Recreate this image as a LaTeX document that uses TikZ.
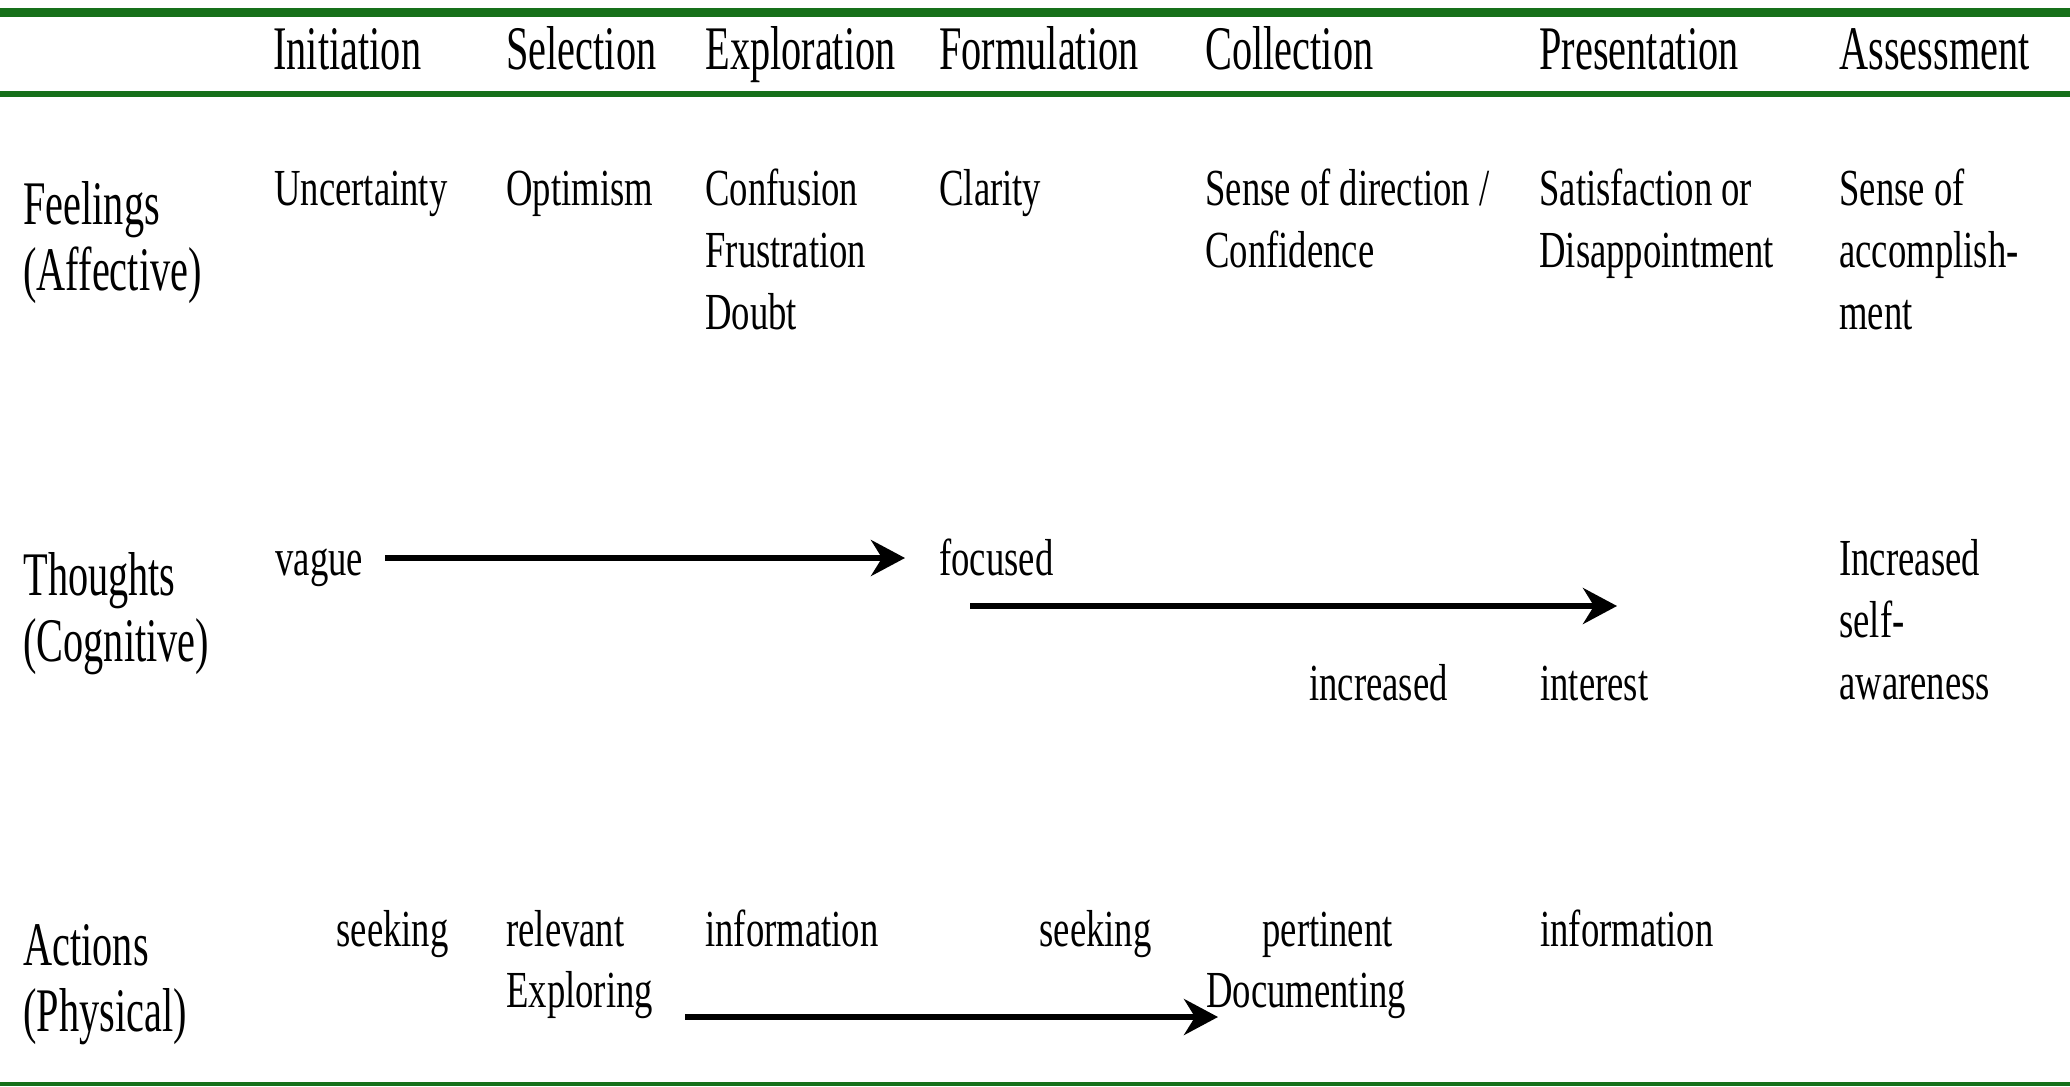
\documentclass[tikz,border=0pt]{standalone}
\usepackage{fontspec}
\setmainfont{Liberation Serif}[FakeStretch=0.705]
\newfontfamily\hdfont{Liberation Serif}[FakeStretch=0.65]
\usetikzlibrary{arrows.meta}
\definecolor{rulegreen}{RGB}{22,112,26}
\newcommand{\celllines}[1]{\begin{tabular}[t]{@{}l@{}}#1\end{tabular}}
\tikzset{
  hd/.style={anchor=base west, inner sep=0pt, font=\hdfont\fontsize{31}{33}\selectfont},
  cell/.style={anchor=base west, inner sep=0pt, font=\fontsize{26}{31}\selectfont},
  cellr/.style={cell, anchor=base east},
  flow/.style={line width=2.7pt, -{Stealth[length=17pt,width=18pt,inset=5.5pt]}},
  rulebar/.style={fill=rulegreen, draw=none},
}
\begin{document}
\begin{tikzpicture}[x=0.5pt,y=-0.5pt]
\useasboundingbox (0,0) rectangle (2070,1086);
% green rules
\fill[rulebar] (0,8) rectangle (2070,17);
\fill[rulebar] (0,91) rectangle (2070,97);
\fill[rulebar] (0,1082) rectangle (2070,1086);
% header
\node[hd] (hInit) at (273,70) {Initiation};
\node[hd] (hSel)  at (506,70) {Selection};
\node[hd] (hExp)  at (705,70) {Exploration};
\node[hd] (hForm) at (939,70) {Formulation};
\node[hd] (hColl) at (1205,70) {Collection};
\node[hd] (hPres) at (1539,70) {Presentation};
\node[hd] (hAss)  at (1839,70) {Assessment};
% row labels
\node[hd] (lFeel) at (23,224) {\celllines{Feelings\\(Affective)}};
\node[hd] (lThou) at (23,595) {\celllines{Thoughts\\(Cognitive)}};
\node[hd] (lAct)  at (23,965) {\celllines{Actions\\(Physical)}};
% feelings
\node[cell] (fInit) at (274,205) {Uncertainty};
\node[cell] (fSel)  at (506,205) {Optimism};
\node[cell] (fExp)  at (705,205) {\celllines{Confusion\\Frustration\\Doubt}};
\node[cell] (fForm) at (939,205) {Clarity};
\node[cell] (fColl) at (1205,205) {\celllines{Sense of direction /\\Confidence}};
\node[cell] (fPres) at (1539,205) {\celllines{Satisfaction or\\Disappointment}};
\node[cell] (fAss)  at (1839,205) {\celllines{Sense of\\accomplish-\\ment}};
% thoughts
\node[cell] (tVague) at (275,575) {vague};
\node[cell] (tFoc)   at (939,575) {focused};
\node[cell] (tAss)   at (1839,575) {\celllines{Increased\\self-\\awareness}};
\node[cell] (tIncr)  at (1309,700) {increased};
\node[cell] (tInt)   at (1540,700) {interest};
\coordinate (t1s) at (385,558);
\coordinate (t1e) at (905,558);
\coordinate (t2s) at (970,606);
\coordinate (t2e) at (1617,606);
\draw[flow] (t1s) -- (t1e);
\draw[flow] (t2s) -- (t2e);
% actions
\node[cellr] (aSeek1) at (449,946) {seeking};
\node[cell]  (aRel)   at (506,946) {relevant};
\node[cell]  (aExpl)  at (506,1007) {Exploring};
\node[cell]  (aInfo1) at (705,946) {information};
\node[cellr] (aSeek2) at (1152,946) {seeking};
\node[cell]  (aPert)  at (1262,946) {pertinent};
\node[cell]  (aDoc)   at (1206,1007) {Documenting};
\node[cell]  (aInfo2) at (1540,946) {information};
\coordinate (a1s) at (685,1017);
\coordinate (a1e) at (1218,1017);
\draw[flow] (a1s) -- (a1e);
\end{tikzpicture}
\end{document}
